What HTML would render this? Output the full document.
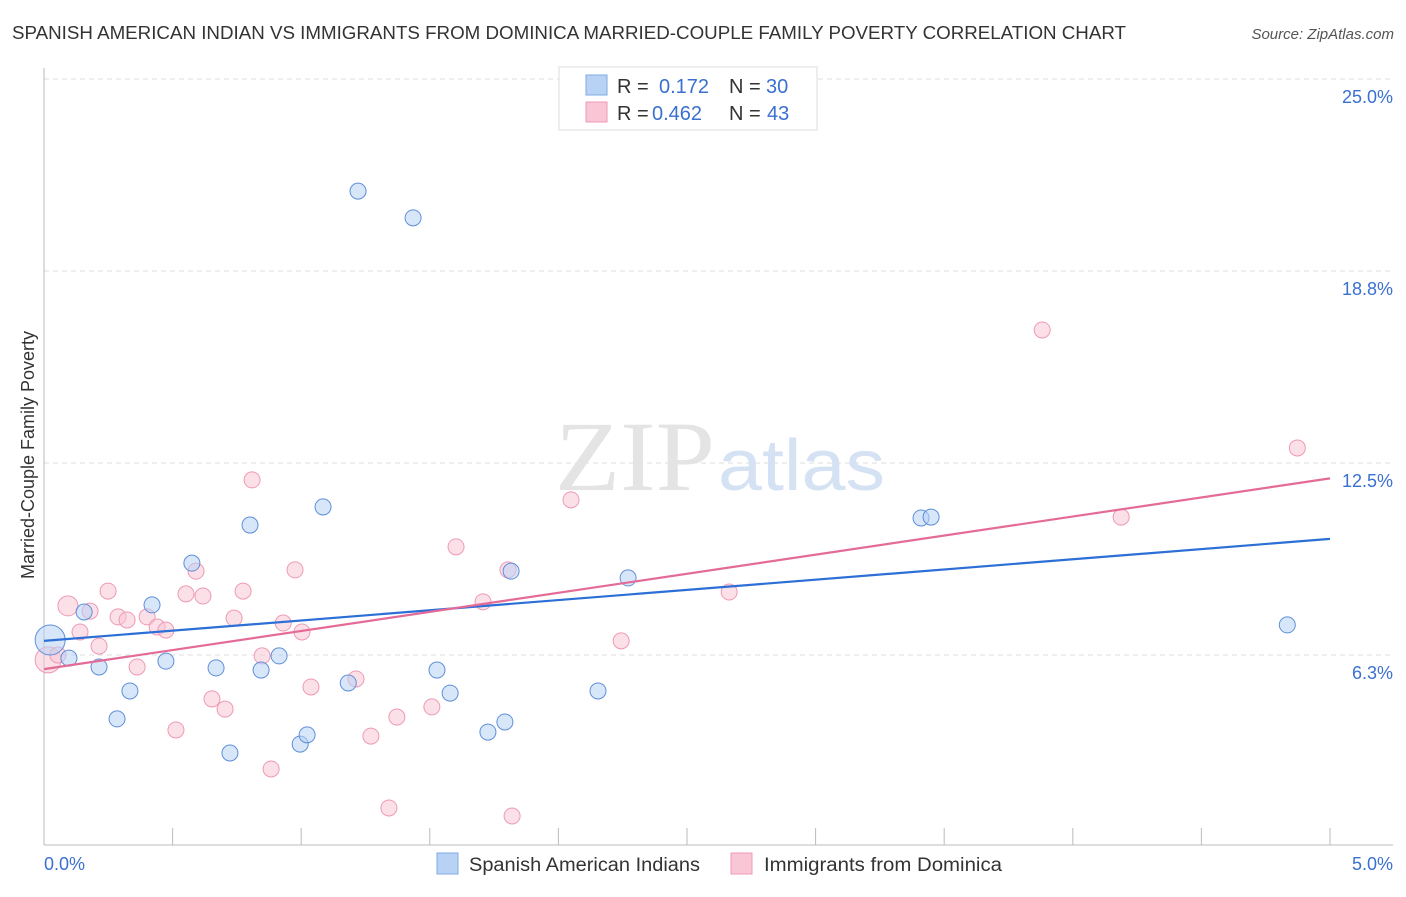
<!DOCTYPE html>
<html><head><meta charset="utf-8"><style>
body{margin:0;background:#fff;font-family:"Liberation Sans",sans-serif;}
svg text{font-family:"Liberation Sans",sans-serif;}
</style></head><body>
<svg width="1406" height="892">
<text x="12" y="39" font-size="18" fill="#333" textLength="1114" lengthAdjust="spacingAndGlyphs">SPANISH AMERICAN INDIAN VS IMMIGRANTS FROM DOMINICA MARRIED-COUPLE FAMILY POVERTY CORRELATION CHART</text>
<text x="1394" y="39" font-size="15" fill="#555" text-anchor="end" font-style="italic">Source: ZipAtlas.com</text>
<g id="grid"></g>
<text x="555" y="490" font-size="100" fill="#e4e4e4" textLength="160" lengthAdjust="spacingAndGlyphs" font-family="Liberation Serif" style="font-family:'Liberation Serif',serif">ZIP</text>
<text x="718" y="490" font-size="72" fill="#d4e2f4" textLength="167" lengthAdjust="spacingAndGlyphs">atlas</text>
<text x="-455" y="34" font-size="18" fill="#333" transform="rotate(-90)" text-anchor="middle">Married-Couple Family Poverty</text>
<g id="marks"></g>
<g>
<rect x="559" y="67" width="258" height="63" fill="#fff" stroke="#ddd"/>
<rect x="586" y="75" width="21" height="20" fill="#b8d2f5" stroke="#7fa9e0"/>
<rect x="586" y="102" width="21" height="20" fill="#f9c6d6" stroke="#ee9ab5"/>
<text x="617" y="93" font-size="20" fill="#333">R =</text>
<text x="659" y="93" font-size="20" fill="#3a70d0">0.172</text>
<text x="729" y="93" font-size="20" fill="#333">N =</text>
<text x="766" y="93" font-size="20" fill="#3a70d0">30</text>
<text x="617" y="120" font-size="20" fill="#333">R =</text>
<text x="652" y="120" font-size="20" fill="#3a70d0">0.462</text>
<text x="729" y="120" font-size="20" fill="#333">N =</text>
<text x="767" y="120" font-size="20" fill="#3a70d0">43</text>
</g>
<g>
<rect x="437" y="853" width="21" height="21" fill="#b8d2f5" stroke="#7fa9e0"/>
<text x="469" y="871" font-size="19" fill="#333" textLength="231" lengthAdjust="spacingAndGlyphs">Spanish American Indians</text>
<rect x="731" y="853" width="21" height="21" fill="#f9c6d6" stroke="#ee9ab5"/>
<text x="764" y="871" font-size="19" fill="#333" textLength="238" lengthAdjust="spacingAndGlyphs">Immigrants from Dominica</text>
</g>
</svg>
<script>
const yTicks=[25,18.75,12.5,6.25];
const yTickLabels=["25.0%","18.8%","12.5%","6.3%"];
const xTickLabels=["0.0%","5.0%"];
const blueX=[0.024,0.097,0.156,0.214,0.284,0.334,0.420,0.474,0.575,0.669,0.723,0.801,0.844,0.914,0.996,1.023,1.085,1.183,1.221,1.435,1.528,1.579,1.726,1.792,1.816,2.154,2.271,3.410,3.449,4.834];
const blueY=[6.74,6.15,7.65,5.86,4.17,5.08,7.88,6.05,9.24,5.83,3.06,10.48,5.76,6.22,3.35,3.65,11.07,5.34,21.35,20.48,5.76,5.01,3.74,4.07,8.98,5.08,8.76,10.71,10.74,7.23];
const pinkX=[0.016,0.054,0.093,0.140,0.179,0.214,0.249,0.288,0.323,0.362,0.401,0.440,0.474,0.513,0.552,0.591,0.618,0.653,0.704,0.739,0.774,0.809,0.848,0.883,0.930,0.976,1.003,1.038,1.213,1.271,1.341,1.372,1.508,1.602,1.707,1.804,1.820,2.049,2.244,2.664,3.881,4.188,4.873];
const pinkY=[6.09,6.25,7.85,7.0,7.68,6.54,8.33,7.49,7.39,5.86,7.49,7.16,7.06,3.81,8.24,8.98,8.17,4.82,4.49,7.45,8.33,11.95,6.22,2.54,7.29,9.02,7.0,5.21,5.47,3.61,1.27,4.23,4.56,9.77,7.98,9.02,1.01,11.3,6.71,8.3,16.83,10.74,12.99];
const blueTrend=[6.71,10.03];
const pinkTrend=[5.79,12.0];
const NS="http://www.w3.org/2000/svg";
const X=v=>44+v/5*1286, Y=v=>847-v*30.72;
function mk(p,t,a){const e=document.createElementNS(NS,t);for(const k in a)e.setAttribute(k,a[k]);p.appendChild(e);return e;}
const g=document.getElementById('grid'), m=document.getElementById('marks');
yTicks.forEach((t,i)=>{
 const l=mk(g,'line',{x1:44,x2:1393,y1:Y(t),y2:Y(t),stroke:'#ddd','stroke-dasharray':'5,4'});
 
 
 const tx=mk(g,'text',{x:1393,y:Y(t)+24,'font-size':18,fill:'#3a70d0','text-anchor':'end'});tx.textContent=yTickLabels[i];
 
 
});
const ax=mk(g,'line',{x1:44,x2:1393,y1:845,y2:845,stroke:'#bbb'});


const ay=mk(g,'line',{x1:44,x2:44,y1:68,y2:845,stroke:'#bbb'});


for(let i=0;i<=10;i++){const t=mk(g,'line',{x1:X(i*0.5),x2:X(i*0.5),y1:828,y2:845,stroke:'#bbb'});
 
 }
xTickLabels.forEach((s,i)=>{const t=mk(g,'text',{x:i?1393:44,y:870,'font-size':18,fill:'#3a70d0','text-anchor':i?'end':'start'});t.textContent=s;
 
 });
function pts(xs,ys,fill,stroke,name){xs.forEach((x,i)=>{const r=i===0?(name==='blue-point'?15:13):(name==='pink-point'&&i===2?10:8);
 const c=mk(m,'circle',{cx:X(x),cy:Y(ys[i]),r:r,fill:fill,stroke:stroke,'stroke-width':1,'fill-opacity':0.55});
 
 });}
pts(pinkX,pinkY,'#f9c6d6','#ee9ab5','pink-point');
pts(blueX,blueY,'#b8d2f5','#5f8fd8','blue-point');
const bl=mk(m,'line',{x1:X(0),x2:X(5),y1:Y(blueTrend[0]),y2:Y(blueTrend[1]),stroke:'#2c6fd6','stroke-width':2.2});


const pl=mk(m,'line',{x1:X(0),x2:X(5),y1:Y(pinkTrend[0]),y2:Y(pinkTrend[1]),stroke:'#e46b97','stroke-width':2.2});


</script>
</body></html>
